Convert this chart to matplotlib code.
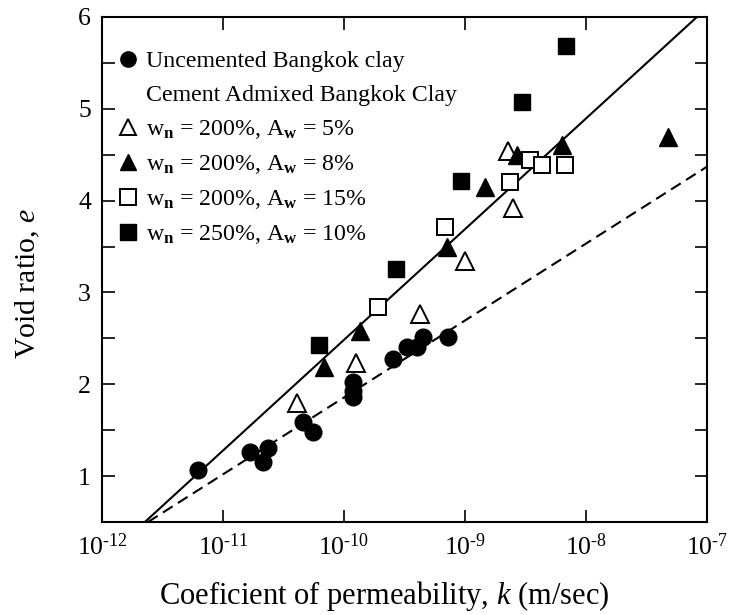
import matplotlib
matplotlib.use("Agg")
import matplotlib.pyplot as plt
from matplotlib.lines import Line2D
from matplotlib.ticker import FixedLocator, NullLocator

plt.rcParams["font.family"] = ["Liberation Serif", "DejaVu Serif"]
plt.rcParams["mathtext.fontset"] = "custom"
plt.rcParams["mathtext.rm"] = "Liberation Serif"
plt.rcParams["mathtext.it"] = "Liberation Serif:italic"
plt.rcParams["mathtext.bf"] = "Liberation Serif:bold"

# Uncemented Bangkok clay
k_uncem = [6.2e-12, 1.67e-11, 2.36e-11, 2.14e-11, 4.57e-11, 5.55e-11,
           1.19e-10, 1.19e-10, 1.19e-10, 2.54e-10, 3.3e-10, 4.5e-10,
           3.98e-10, 7.2e-10]
e_uncem = [1.07, 1.26, 1.31, 1.15, 1.59, 1.48, 2.03, 1.93, 1.86, 2.27,
           2.41, 2.52, 2.41, 2.52]

# w_n = 200 %, A_w = 5 %
k_aw5 = [4.1e-11, 1.26e-10, 4.25e-10, 1.0e-9, 2.5e-9, 2.25e-9]
e_aw5 = [1.80, 2.23, 2.77, 3.34, 3.92, 4.54]

# w_n = 200 %, A_w = 8 %
k_aw8 = [6.8e-11, 1.35e-10, 7.1e-10, 1.46e-9, 2.7e-9, 6.3e-9, 4.8e-8]
e_aw8 = [2.19, 2.58, 3.49, 4.15, 4.50, 4.61, 4.69]

# w_n = 200 %, A_w = 15 %
k_aw15 = [1.9e-10, 6.8e-10, 2.35e-9, 3.45e-9, 4.3e-9, 6.75e-9]
e_aw15 = [2.84, 3.71, 4.20, 4.44, 4.39, 4.39]

# w_n = 250 %, A_w = 10 %
k_aw10 = [6.2e-11, 2.7e-10, 9.2e-10, 2.95e-9, 6.85e-9]
e_aw10 = [2.43, 3.25, 4.21, 5.07, 5.68]

# fitted trend lines (end points)
k_fit_cem = [2.26e-12, 8.26e-8]
e_fit_cem = [0.5, 6.0]
k_fit_uncem = [2.4e-12, 1.0e-7]
e_fit_uncem = [0.5, 4.37]

x_ticks = [1e-12, 1e-11, 1e-10, 1e-9, 1e-8, 1e-7]
x_ticklabels = ["10$^{\\text{-12}}$", "10$^{\\text{-11}}$", "10$^{\\text{-10}}$",
                "10$^{\\text{-9}}$", "10$^{\\text{-8}}$", "10$^{\\text{-7}}$"]
y_major = [1, 2, 3, 4, 5, 6]
y_minor = [0.5, 1.5, 2.5, 3.5, 4.5, 5.5]

fig = plt.figure(figsize=(7.37, 6.15), dpi=100)
ax = fig.add_axes([0.1384, 0.1512, 0.8209, 0.8212])

ax.plot(k_fit_cem, e_fit_cem, color="black", lw=1.5)
ax.plot(k_fit_uncem, e_fit_uncem, color="black", lw=1.5,
        linestyle=(0, (5.5, 3)))

ms = 12
ax.plot(k_uncem, e_uncem, "o", color="black", ms=ms, ls="none")
ax.plot(k_aw5, e_aw5, "^", mfc="white", mec="black", mew=1.4, ms=ms + 1, ls="none")
ax.plot(k_aw8, e_aw8, "^", color="black", ms=ms + 1, ls="none")
ax.plot(k_aw15, e_aw15, "s", mfc="white", mec="black", mew=1.4, ms=ms, ls="none")
ax.plot(k_aw10, e_aw10, "s", color="black", ms=ms, ls="none")

ax.set_xscale("log")
ax.set_xlim(1e-12, 1e-7)
ax.set_ylim(0.5, 6)
ax.xaxis.set_major_locator(FixedLocator(x_ticks))
ax.xaxis.set_minor_locator(NullLocator())
ax.set_xticklabels(x_ticklabels)
ax.yaxis.set_major_locator(FixedLocator(y_major))
ax.yaxis.set_minor_locator(FixedLocator(y_minor))
ax.tick_params(which="both", direction="in", top=True, right=True,
               length=9, width=1.2, labelsize=18.5, pad=8)
for spine in ax.spines.values():
    spine.set_linewidth(1.5)

ax.set_xlabel("Coeficient of permeability, $\\mathit{k}$ (m/sec)",
              fontsize=22, labelpad=14)
ax.set_ylabel("Void ratio, $\\mathit{e}$", fontsize=21.4, labelpad=26)
# labels sit a little off the axes centre
ax.xaxis.label.set_x(0.466)
ax.yaxis.label.set_y(0.473)

handles = [
    Line2D([], [], marker="o", color="black", ls="none", ms=11),
    Line2D([], [], ls="none"),
    Line2D([], [], marker="^", mfc="white", mec="black", mew=1.4, ls="none", ms=12),
    Line2D([], [], marker="^", color="black", ls="none", ms=12),
    Line2D([], [], marker="s", mfc="white", mec="black", mew=1.4, ls="none", ms=11),
    Line2D([], [], marker="s", color="black", ls="none", ms=11),
]
labels = [
    "Uncemented Bangkok clay",
    "Cement Admixed Bangkok Clay",
    "w$_\\mathbf{n}$ = 200%, A$_\\mathbf{w}$ = 5%",
    "w$_\\mathbf{n}$ = 200%, A$_\\mathbf{w}$ = 8%",
    "w$_\\mathbf{n}$ = 200%, A$_\\mathbf{w}$ = 15%",
    "w$_\\mathbf{n}$ = 250%, A$_\\mathbf{w}$ = 10%",
]
ax.legend(handles, labels, loc="upper left", bbox_to_anchor=(0.007, 0.952),
          frameon=False, fontsize=17.2, handlelength=1.0, handletextpad=0.25,
          labelspacing=0.5, borderpad=0.2, borderaxespad=0.2)

fig.savefig("out.png", dpi=100)
